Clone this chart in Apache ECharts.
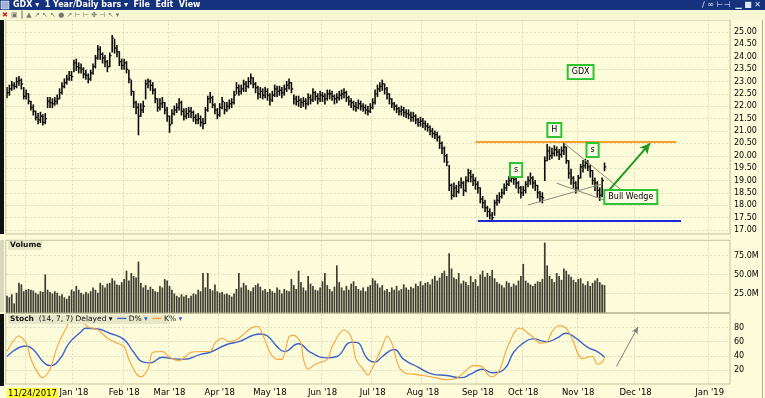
<!DOCTYPE html>
<html><head><meta charset="utf-8">
<script src="https://cdn.jsdelivr.net/npm/echarts@6/dist/echarts.min.js"></script>
<style>html,body{margin:0;padding:0;background:#fcfcda;}#c{width:765px;height:398px;}</style>
</head><body><div id="c"></div><script>
// ---------- DATA ----------
const firstDay = '2017-11-20', lastBar = '2018-11-16', futureStart = '2018-11-19', axisEnd = '2019-01-09';
const holidays = ['2017-11-23','2017-12-25','2018-01-01','2018-01-15','2018-02-19','2018-03-30','2018-05-28','2018-07-04','2018-09-03'];
const startLabel = '11/24/2017';
const monthNames = ['Jan','Feb','Mar','Apr','May','Jun','Jul','Aug','Sep','Oct','Nov','Dec'];

const close = [
22.55,22.7,22.85,22.8,23.0,23.05,22.9,22.4,22.5,22.2,
21.95,21.8,21.55,21.45,21.6,21.35,21.5,22.2,22.15,22.1,
22.2,22.3,22.55,22.8,22.95,23.1,23.25,23.2,23.75,23.6,
23.55,23.5,23.3,23.25,23.1,23.35,23.6,23.95,24.3,24.1,
23.95,23.8,23.6,24.05,24.75,24.35,24.2,23.8,23.65,23.75,
23.5,23.1,22.6,22.15,21.95,21.6,21.85,22.0,22.9,23.0,
22.85,22.65,22.3,21.95,22.1,22.15,21.85,21.6,21.25,21.7,
21.85,21.95,22.15,21.8,21.6,21.7,21.8,21.75,21.55,21.45,
21.5,21.35,21.3,21.85,22.3,22.35,22.05,21.85,21.65,21.95,
22.2,21.85,22.0,22.1,22.15,22.45,22.75,22.6,22.7,22.9,
22.8,23.0,23.15,22.9,22.75,22.5,22.6,22.45,22.6,22.45,
22.25,22.45,22.7,22.6,22.65,22.55,22.7,22.85,22.95,22.7,
22.3,22.2,22.25,22.15,22.2,22.1,22.35,22.25,22.55,22.4,
22.3,22.45,22.4,22.3,22.5,22.5,22.4,22.3,22.35,22.45,
22.5,22.55,22.35,22.2,22.15,22.0,21.95,22.1,22.0,21.95,
21.85,21.8,21.95,22.15,22.5,22.7,22.8,22.9,22.7,22.5,
22.3,22.1,22.0,21.9,21.8,21.85,21.75,21.7,21.65,21.55,
21.6,21.45,21.35,21.4,21.3,21.2,21.15,21.0,20.9,20.85,
20.75,20.5,20.3,20.0,19.75,18.8,18.4,18.7,18.55,18.8,
18.9,18.6,19.0,19.3,19.15,19.0,18.85,18.7,18.25,18.1,
17.9,17.75,17.6,17.5,18.1,18.2,18.35,18.5,18.7,18.85,
19.0,19.1,19.05,18.9,18.7,18.5,18.6,18.85,19.0,19.1,
18.9,18.8,18.5,18.35,18.3,19.8,20.2,20.0,20.1,20.25,
20.15,20.05,20.2,20.35,19.8,19.3,19.1,18.9,18.7,19.1,
19.55,19.6,19.7,19.55,19.4,19.0,18.9,18.6,18.4,19.0,
19.55];
const high = [
22.75,22.85,23.0,22.95,23.15,23.2,23.1,22.75,22.65,22.5,
22.2,22.05,21.8,21.7,21.75,21.65,21.7,22.35,22.35,22.3,
22.35,22.45,22.7,22.95,23.1,23.25,23.4,23.4,23.85,23.9,
23.75,23.7,23.55,23.45,23.3,23.45,23.7,24.05,24.45,24.4,
24.15,24.05,23.85,24.15,24.85,24.7,24.45,24.2,23.9,23.9,
23.8,23.45,23.05,22.6,22.2,22.1,22.1,22.2,23.05,23.1,
23.05,22.95,22.7,22.3,22.3,22.35,22.15,21.95,21.6,21.85,
22.0,22.1,22.3,22.2,21.9,21.9,21.95,21.95,21.8,21.65,
21.7,21.6,21.5,21.95,22.4,22.55,22.4,22.1,21.9,22.1,
22.35,22.15,22.15,22.25,22.3,22.6,22.95,22.85,22.85,23.05,
23.0,23.15,23.3,23.15,22.95,22.8,22.75,22.7,22.75,22.7,
22.5,22.6,22.85,22.8,22.8,22.75,22.85,23.0,23.1,22.95,
22.45,22.4,22.4,22.3,22.35,22.3,22.5,22.45,22.7,22.6,
22.5,22.6,22.55,22.5,22.65,22.65,22.6,22.45,22.5,22.6,
22.65,22.7,22.6,22.4,22.3,22.2,22.15,22.25,22.2,22.1,
22.05,22.0,22.1,22.3,22.65,22.85,22.95,23.05,22.9,22.75,
22.5,22.3,22.15,22.05,21.95,22.0,21.95,21.85,21.85,21.75,
21.75,21.65,21.5,21.55,21.5,21.4,21.3,21.2,21.1,21.0,
20.95,20.8,20.55,20.35,20.05,19.6,18.85,18.9,18.8,18.95,
19.1,18.95,19.15,19.45,19.4,19.25,19.1,18.95,18.7,18.35,
18.2,17.95,17.85,17.7,18.2,18.4,18.5,18.65,18.85,19.0,
19.15,19.3,19.25,19.1,18.95,18.75,18.75,18.95,19.15,19.3,
19.15,19.0,18.8,18.55,18.5,19.95,20.45,20.35,20.3,20.4,
20.35,20.25,20.35,20.5,20.35,19.8,19.45,19.15,18.95,19.2,
19.65,19.8,19.85,19.8,19.6,19.4,19.1,18.95,18.7,19.1,
19.7];
const low = [
22.35,22.45,22.65,22.7,22.75,22.85,22.7,22.3,22.3,22.1,
21.85,21.65,21.45,21.3,21.35,21.25,21.3,21.95,21.95,21.95,
22.05,22.1,22.3,22.5,22.75,22.9,23.05,23.05,23.4,23.45,
23.35,23.35,23.15,23.1,22.95,23.05,23.3,23.55,23.9,23.9,
23.75,23.6,23.4,23.6,24.2,24.15,24.0,23.65,23.5,23.5,
23.35,22.95,22.45,21.95,21.7,20.85,21.6,21.75,22.3,22.75,
22.65,22.5,22.15,21.8,21.85,21.95,21.7,21.4,20.95,21.3,
21.65,21.75,21.85,21.65,21.45,21.5,21.55,21.55,21.4,21.3,
21.3,21.2,21.1,21.3,21.8,22.15,21.95,21.7,21.5,21.6,
21.9,21.7,21.8,21.9,21.95,22.1,22.5,22.45,22.5,22.6,
22.6,22.75,22.9,22.75,22.55,22.3,22.35,22.3,22.35,22.25,
22.05,22.2,22.4,22.4,22.45,22.35,22.45,22.6,22.7,22.55,
22.1,22.05,22.0,21.95,22.0,21.9,22.05,22.1,22.2,22.25,
22.1,22.2,22.2,22.1,22.25,22.3,22.25,22.1,22.15,22.25,
22.3,22.35,22.2,22.05,21.95,21.85,21.8,21.9,21.85,21.8,
21.7,21.65,21.75,21.9,22.1,22.4,22.6,22.65,22.5,22.3,
22.1,21.95,21.85,21.75,21.65,21.65,21.6,21.55,21.5,21.4,
21.4,21.3,21.2,21.2,21.15,21.05,21.0,20.85,20.75,20.7,
20.6,20.3,20.1,19.75,19.6,18.6,18.25,18.35,18.35,18.5,
18.7,18.4,18.55,18.95,18.95,18.8,18.65,18.5,18.1,17.9,
17.75,17.55,17.45,17.35,17.6,18.0,18.1,18.3,18.45,18.6,
18.8,18.95,18.85,18.7,18.5,18.3,18.4,18.5,18.75,18.85,
18.7,18.6,18.3,18.15,18.1,19.0,19.8,19.85,19.9,20.0,
20.0,19.85,19.95,20.05,19.7,19.1,18.85,18.7,18.5,18.65,
19.1,19.35,19.5,19.4,19.15,18.85,18.6,18.35,18.2,18.35,
19.4];
const volumeM = [
22,20,24,12,26,39,37,28,30,31,
30,29,26,24,28,27,50,30,27,25,
28,26,22,24,20,18,22,30,28,35,
30,26,24,27,25,28,33,30,26,39,
36,33,38,39,45,42,37,36,40,44,
55,42,52,48,46,67,39,33,36,30,
34,31,28,27,35,33,44,42,35,30,
25,22,20,24,21,23,19,22,25,24,
30,28,52,33,52,31,29,37,28,26,
27,24,25,23,21,25,31,52,33,39,
36,30,28,33,36,38,34,29,31,27,
31,28,26,33,30,25,31,29,28,44,
36,31,55,40,33,29,48,38,35,30,
29,33,41,52,36,31,28,34,62,40,
33,29,35,30,38,41,35,31,29,33,
28,34,36,45,42,38,33,36,29,31,
27,33,30,35,29,31,37,33,30,34,
32,38,35,41,36,39,40,37,44,48,
42,46,52,55,48,78,58,46,44,52,
38,42,40,36,48,40,44,35,50,55,
47,52,48,56,45,40,38,36,33,41,
39,34,38,36,42,48,64,42,39,37,
35,38,41,40,44,92,62,48,44,40,
52,48,43,58,55,50,47,43,40,44,
45,38,36,41,35,39,42,45,40,37,
36];
// Stochastic (14,7,7): [bar index, value]
const stochD = [[0,39],[8,54],[11,49],[15,32],[18,26],[22,35],[26,58],[31,74],[33,79],[38,78],[43,72],[49,63],[53,45],[57,31],[60,30],[65,38],[69,36],[74,35],[81,42],[85,45],[92,56],[97,60],[106,71],[109,68],[113,53],[116,46],[122,57],[127,45],[134,37],[138,39],[144,59],[146,59],[151,35],[154,31],[157,39],[162,49],[166,35],[172,24],[178,14],[184,12],[190,9],[194,14],[199,21],[203,16],[208,21],[212,45],[216,58],[220,64],[226,60],[230,65],[234,72],[238,65],[243,52],[247,46],[250,38]];
const stochK = [[0,46],[5,68],[8,58],[10,35],[13,15],[15,9],[18,21],[21,53],[25,81],[27,93],[31,90],[34,81],[38,77],[42,65],[46,58],[49,53],[51,35],[54,15],[56,10],[59,21],[61,45],[65,46],[68,38],[72,33],[77,45],[82,46],[85,46],[87,58],[90,65],[93,60],[97,65],[102,79],[105,82],[107,70],[110,45],[113,35],[115,35],[118,67],[120,69],[123,58],[124,35],[126,21],[129,28],[134,35],[136,53],[141,77],[144,67],[146,35],[149,21],[151,13],[154,31],[157,53],[159,68],[161,58],[164,24],[167,15],[170,14],[174,12],[178,10],[184,6],[188,8],[192,19],[195,26],[199,24],[201,14],[203,10],[206,19],[209,49],[213,77],[215,79],[218,72],[220,67],[223,58],[226,60],[228,74],[231,83],[234,79],[237,60],[239,42],[241,36],[244,39],[245,39],[247,28],[249,31],[250,38]];
// annotations (bar index, price)
const resistance = 20.55, support = 17.36;
const boxes = [{name:'GDX',at:[240,23.38]},{name:'H',at:[229,21.04]},{name:'s',at:[213,19.42]},{name:'s',at:[245,20.23]},{name:'Bull Wedge',at:[261,18.33]}];

// ---------- CATEGORIES ----------
const categories = [];
(function(){
  const d = new Date(firstDay+'T00:00:00Z');
  const end = new Date(axisEnd+'T00:00:00Z');
  while (d <= end) {
    const s = d.toISOString().slice(0,10);
    const wd = d.getUTCDay();
    if (s <= lastBar) { if (wd!==0 && wd!==6 && holidays.indexOf(s)<0) categories.push(s); }
    else if (s >= futureStart) categories.push(s);
    d.setUTCDate(d.getUTCDate()+1);
  }
})();
const isMonthStart = i => i>0 && categories[i].slice(0,7)!==categories[i-1].slice(0,7);

const bars = close.map((c,i)=>[i, low[i], high[i], c]);

const FONT = 'DejaVu Sans';
const BG = '#fcfcda';
const GRIDC = '#dcdcbc';
const FRAME = '#c4c4a0';
const L = 5.8, W = 724.2;

function renderBar(params, api){
  const x = api.value(0);
  const lo = api.coord([x, api.value(1)]);
  const hi = api.coord([x, api.value(2)]);
  const cl = api.coord([x, api.value(3)]);
  return {type:'group', children:[
    {type:'line', shape:{x1:lo[0],y1:lo[1]+0.6,x2:hi[0],y2:hi[1]-0.6}, style:{stroke:'#0c0c0c',lineWidth:1.6}},
    {type:'line', shape:{x1:cl[0],y1:cl[1],x2:cl[0]+1.8,y2:cl[1]}, style:{stroke:'#0c0c0c',lineWidth:1.3}}
  ]};
}

const xAx = (gi, labels) => ({
  type:'category', gridIndex:gi, data:categories, boundaryGap:true,
  axisLine:{show:false}, axisTick:{show:false},
  axisLabel: labels ? {
    show:true, fontFamily:FONT, fontSize:8.5, color:'#000', margin:4,
    alignMinLabel:'left',
    interval:(i)=> i===0 || (isMonthStart(i) && i>20),
    formatter:(v,i)=>{
      if(i===0) return '{hl|'+startLabel+'}';
      return monthNames[+v.slice(5,7)-1]+" '"+v.slice(2,4);
    },
    rich:{hl:{backgroundColor:'#ffff38',padding:[1,1,0,1],fontFamily:FONT,fontSize:8.5,color:'#000'}}
  } : {show:false},
  splitLine:{show:true, interval:(i)=>isMonthStart(i), lineStyle:{color:GRIDC,type:[2,2],width:1}}
});
const yLab = (fmt) => ({show:true, fontFamily:FONT, fontSize:8, color:'#000', margin:4, showMinLabel:false, showMaxLabel:false, formatter:fmt});
const ySplit = {show:true, showMinLine:false, showMaxLine:false, lineStyle:{color:GRIDC,type:[2,2],width:1}};

const chart = echarts.init(document.getElementById('c'), null, {renderer:'canvas'});
chart.setOption({
  backgroundColor: BG,
  animation:false,
  grid:[
    {left:L, width:W, top:19.625, height:222.75},
    {left:L, width:W, top:240.3, height:72.2, show:true, borderColor:FRAME, borderWidth:1},
    {left:L, width:W, top:313.5, height:72, show:true, borderColor:FRAME, borderWidth:1}
  ],
  xAxis:[xAx(0,false), xAx(1,false), xAx(2,true)],
  yAxis:[
    {type:'value', gridIndex:0, position:'right', min:16.5, max:25.5, interval:0.5, axisLine:{show:false}, axisTick:{show:false}, axisLabel:yLab(v=>v.toFixed(2)), splitLine:ySplit},
    {type:'value', gridIndex:1, position:'right', min:0, max:95, interval:25, axisLine:{show:false}, axisTick:{show:false}, axisLabel:yLab(v=>v.toFixed(1)+'M'), splitLine:ySplit},
    {type:'value', gridIndex:2, position:'right', min:0, max:100, interval:20, axisLine:{show:false}, axisTick:{show:false}, axisLabel:yLab(v=>String(v)), splitLine:ySplit}
  ],
  series:[
    {type:'custom', name:'GDX', xAxisIndex:0, yAxisIndex:0, renderItem:renderBar, data:bars, encode:{x:0,y:[1,2,3]}, clip:false, silent:true,
     markLine:{silent:true, symbol:['none','none'], label:{show:false}, animation:false,
       data:[
         [{coord:[196,resistance], lineStyle:{color:'#f7a12a',width:2.2,type:'solid'}},{coord:[280,resistance]}],
         [{coord:[197,support], lineStyle:{color:'#1a2ad6',width:2.2,type:'solid'}},{coord:[282,support]}],
         [{coord:[233,20.52], lineStyle:{color:'#8a8a7a',width:1,type:'solid'}},{coord:[257,18.62]}],
         [{coord:[230,18.89], lineStyle:{color:'#8a8a7a',width:1,type:'solid'}},{coord:[251,18.17]}],
         [{coord:[218,18.01], lineStyle:{color:'#8a8a7a',width:1,type:'solid'}},{coord:[249,18.86]}],
         [{coord:[252,18.62], symbol:'none', lineStyle:{color:'#1e9a1e',width:2,type:'solid'}},{coord:[269,20.5], symbol:'arrow', symbolSize:[8,10]}]
       ]},
     markPoint:{silent:true, animation:false, symbol:'circle', symbolSize:0,
       data: boxes.map(b=>({coord:b.at, value:b.name})),
       label:{show:true, position:'inside', formatter:p=>p.value, color:'#000', fontFamily:FONT, fontSize:8,
         backgroundColor:'#fbfbea', borderColor:'#31c231', borderWidth:2, padding:[2,3,2,3]}}
    },
    {type:'bar', name:'Volume', xAxisIndex:1, yAxisIndex:1, data:volumeM, barWidth:1.7, silent:true,
     itemStyle:{color:'#3c3c30'}},
    {type:'line', name:'D%', xAxisIndex:2, yAxisIndex:2, data:stochD, showSymbol:false, smooth:0.5, silent:true,
     lineStyle:{color:'#3c62cc',width:1.4}},
    {type:'line', name:'K%', xAxisIndex:2, yAxisIndex:2, data:stochK, showSymbol:false, smooth:0.3, silent:true,
     lineStyle:{color:'#f9a33a',width:1.1},
     markLine:{silent:true, symbol:['none','arrow'], symbolSize:[5,7], label:{show:false}, animation:false,
       data:[[{coord:[255,25], lineStyle:{color:'#808080',width:1,type:'solid'}},{coord:[264,81]}]]}}
  ],
  graphic:[
    // title bar
    {type:'rect', shape:{x:0,y:0,width:765,height:10}, style:{fill:'#14327e'}, z:10},
    {type:'rect', shape:{x:1,y:1,width:8,height:8}, style:{fill:'#9fb3d9',stroke:'#fff',lineWidth:0.5}, z:11},
    {type:'text', x:13, y:5, z:11, style:{text:'GDX \u25BE  1 Year/Daily bars \u25BE  File  Edit  View', fill:'#fff', font:'bold 8px "DejaVu Sans"', verticalAlign:'middle'}},
    {type:'text', x:702, y:5, z:11, style:{text:'\u2215 \u221E \u22A2\u22A3  \u2581 \u25A0 \u2715', fill:'#dfe6f5', font:'8px "DejaVu Sans"', verticalAlign:'middle'}},
    // toolbar
    {type:'rect', shape:{x:0,y:10,width:765,height:10}, style:{fill:'#f7f7d4'}, z:10},
    {type:'text', x:2, y:15, z:11, style:{text:'\u2716', fill:'#c22', font:'7px "DejaVu Sans"', verticalAlign:'middle'}},
    {type:'text', x:11, y:15, z:11, style:{text:'\u25A3 \u2551 \u25B2 \u2197 \u2196 \u2196 \u25CF \u2197 \u22A2 \u22A2 \u2724 \u22A3 \u2196 \u25BE', fill:'#7a7a6a', font:'7px "DejaVu Sans"', verticalAlign:'middle'}},
    // panel frames and left strip
    {type:'rect', shape:{x:L,y:20,width:W,height:214}, style:{fill:'none',stroke:FRAME,lineWidth:1}, z:5},
    {type:'rect', shape:{x:0,y:20,width:4,height:214}, style:{fill:'#111'}, z:6},
    {type:'rect', shape:{x:0,y:314,width:4,height:72}, style:{fill:'#111'}, z:6},
    {type:'rect', shape:{x:0,y:240,width:4,height:72}, style:{fill:'#d8d8bc'}, z:6},
    {type:'line', shape:{x1:762.5,y1:10,x2:762.5,y2:398}, style:{stroke:'#b0b090',lineWidth:1}, z:6},
    // panel labels
    {type:'rect', shape:{x:8,y:241,width:34,height:9}, style:{fill:'#e6e6c8'}, z:7},
    {type:'text', x:10, y:245.5, z:8, style:{text:'Volume', fill:'#111', font:'bold 7.5px "DejaVu Sans"', verticalAlign:'middle'}},
    {type:'rect', shape:{x:8,y:315,width:162,height:9}, style:{fill:'#e6e6c8'}, z:7},
    {type:'text', x:10, y:319.5, z:8, style:{
      text:'{b|Stoch}  (14, 7, 7) Delayed \u25BE  {bl|\u2501\u2501} D% {bl|\u25BE}  {or|\u2501\u2501} K% {bl|\u25BE}',
      fill:'#111', font:'7.5px "DejaVu Sans"', verticalAlign:'middle',
      rich:{b:{font:'bold 7.5px "DejaVu Sans"',fill:'#111'}, bl:{fill:'#3c62cc',font:'7.5px "DejaVu Sans"'}, or:{fill:'#f9a33a',font:'7.5px "DejaVu Sans"'}}}}
  ]
});
</script></body></html>
